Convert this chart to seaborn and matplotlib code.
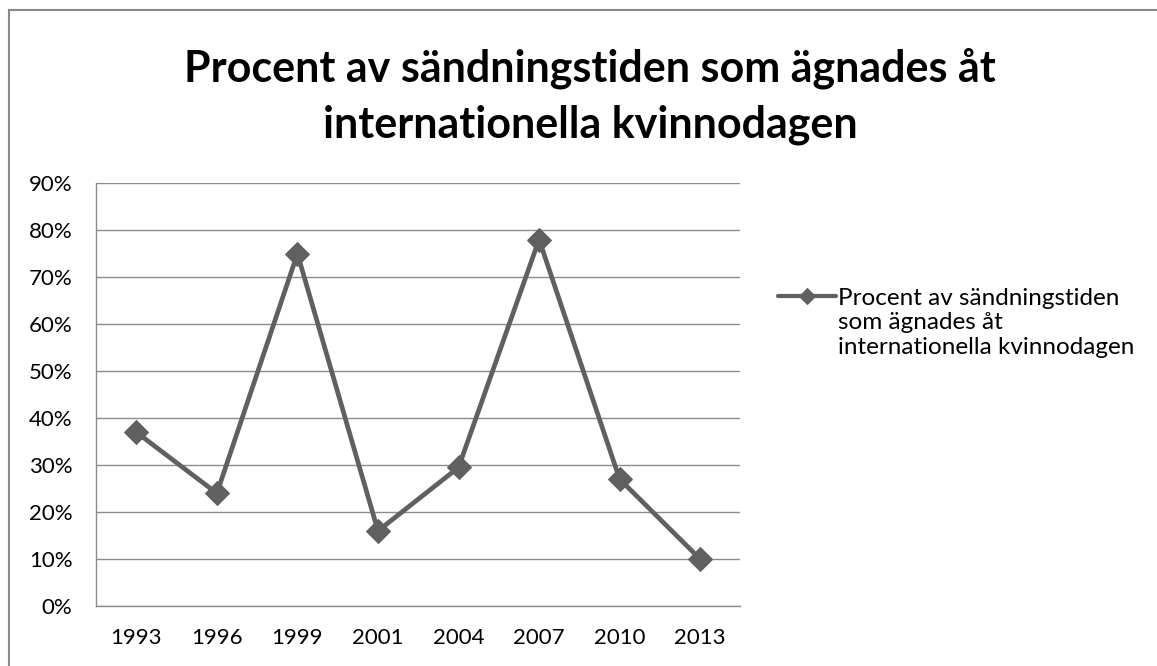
import pandas as pd
import matplotlib
matplotlib.use('Agg')
import matplotlib.pyplot as plt
import seaborn as sns
from matplotlib.ticker import PercentFormatter
from matplotlib.patches import Rectangle

years = ['1993', '1996', '1999', '2001', '2004', '2007', '2010', '2013']
share = [0.37, 0.24, 0.75, 0.16, 0.295, 0.78, 0.27, 0.10]
y_ticks = [0.0, 0.1, 0.2, 0.3, 0.4, 0.5, 0.6, 0.7, 0.8, 0.9]

legend_lines = ['Procent av sändningstiden', 'som ägnades åt',
                'internationella kvinnodagen']
title = 'Procent av sändningstiden som ägnades åt\ninternationella kvinnodagen'

data = pd.DataFrame({'year': years, 'share': share})

sns.set_style('white')
plt.rcParams['font.family'] = ['Lato', 'DejaVu Sans']
plt.rcParams['text.color'] = 'black'

W, H = 1157, 666
fig = plt.figure(figsize=(W / 100, H / 100), dpi=100)
ax = fig.add_axes([0.083, 0.090, 0.557, 0.635])

line_color = '#606060'
grid_color = '#8c8c8c'

sns.lineplot(data=data, x='year', y='share', ax=ax, color=line_color,
             linewidth=3.4, marker='D', markersize=12, markeredgecolor=line_color,
             label=legend_lines[0], sort=False)

ax.set_ylim(0, 0.9)
ax.set_xlim(-0.5, len(years) - 0.5)
ax.set_yticks(y_ticks)
ax.yaxis.set_major_formatter(PercentFormatter(1.0, decimals=0))
ax.grid(axis='y', color=grid_color, linewidth=1)
ax.set_axisbelow(True)
ax.set_xlabel('')
ax.set_ylabel('')
ax.tick_params(axis='both', length=0, labelsize=16, colors='black')
ax.tick_params(axis='y', pad=17)
ax.tick_params(axis='x', pad=16)

for side in ['top', 'right']:
    ax.spines[side].set_visible(False)
for side in ['left', 'bottom']:
    ax.spines[side].set_color(grid_color)
    ax.spines[side].set_linewidth(1)

leg = ax.legend(loc='center left', bbox_to_anchor=(778 / W, 1 - 298 / H),
                bbox_transform=fig.transFigure, frameon=False, fontsize=17.5,
                handlelength=2.4, handletextpad=0.05, borderaxespad=0,
                borderpad=0)
for h in leg.legend_handles:
    h.set_markersize(8)
    h.set_linewidth(3)

# remaining lines of the wrapped legend label
fig.canvas.draw()
tb = leg.get_texts()[0].get_window_extent()
for i, txt in enumerate(legend_lines[1:], start=1):
    fig.text(tb.x0 / W, (tb.y0 - 24.5 * i) / H, txt, fontsize=17.5,
             ha='left', va='bottom')

fig.text(0.51, 1 - 68 / H, title.split('\n')[0], ha='center', va='center',
         fontsize=31, fontweight='bold')
fig.text(0.51, 1 - 125 / H, title.split('\n')[1], ha='center', va='center',
         fontsize=31, fontweight='bold')

# outer chart border
fig.patches.append(Rectangle((9 / W, -0.05), 1.2, 1 - 10 / H + 0.05,
                             transform=fig.transFigure, fill=False,
                             edgecolor='#8a8a8a', linewidth=1.5))

fig.savefig('out.png', dpi=100)
